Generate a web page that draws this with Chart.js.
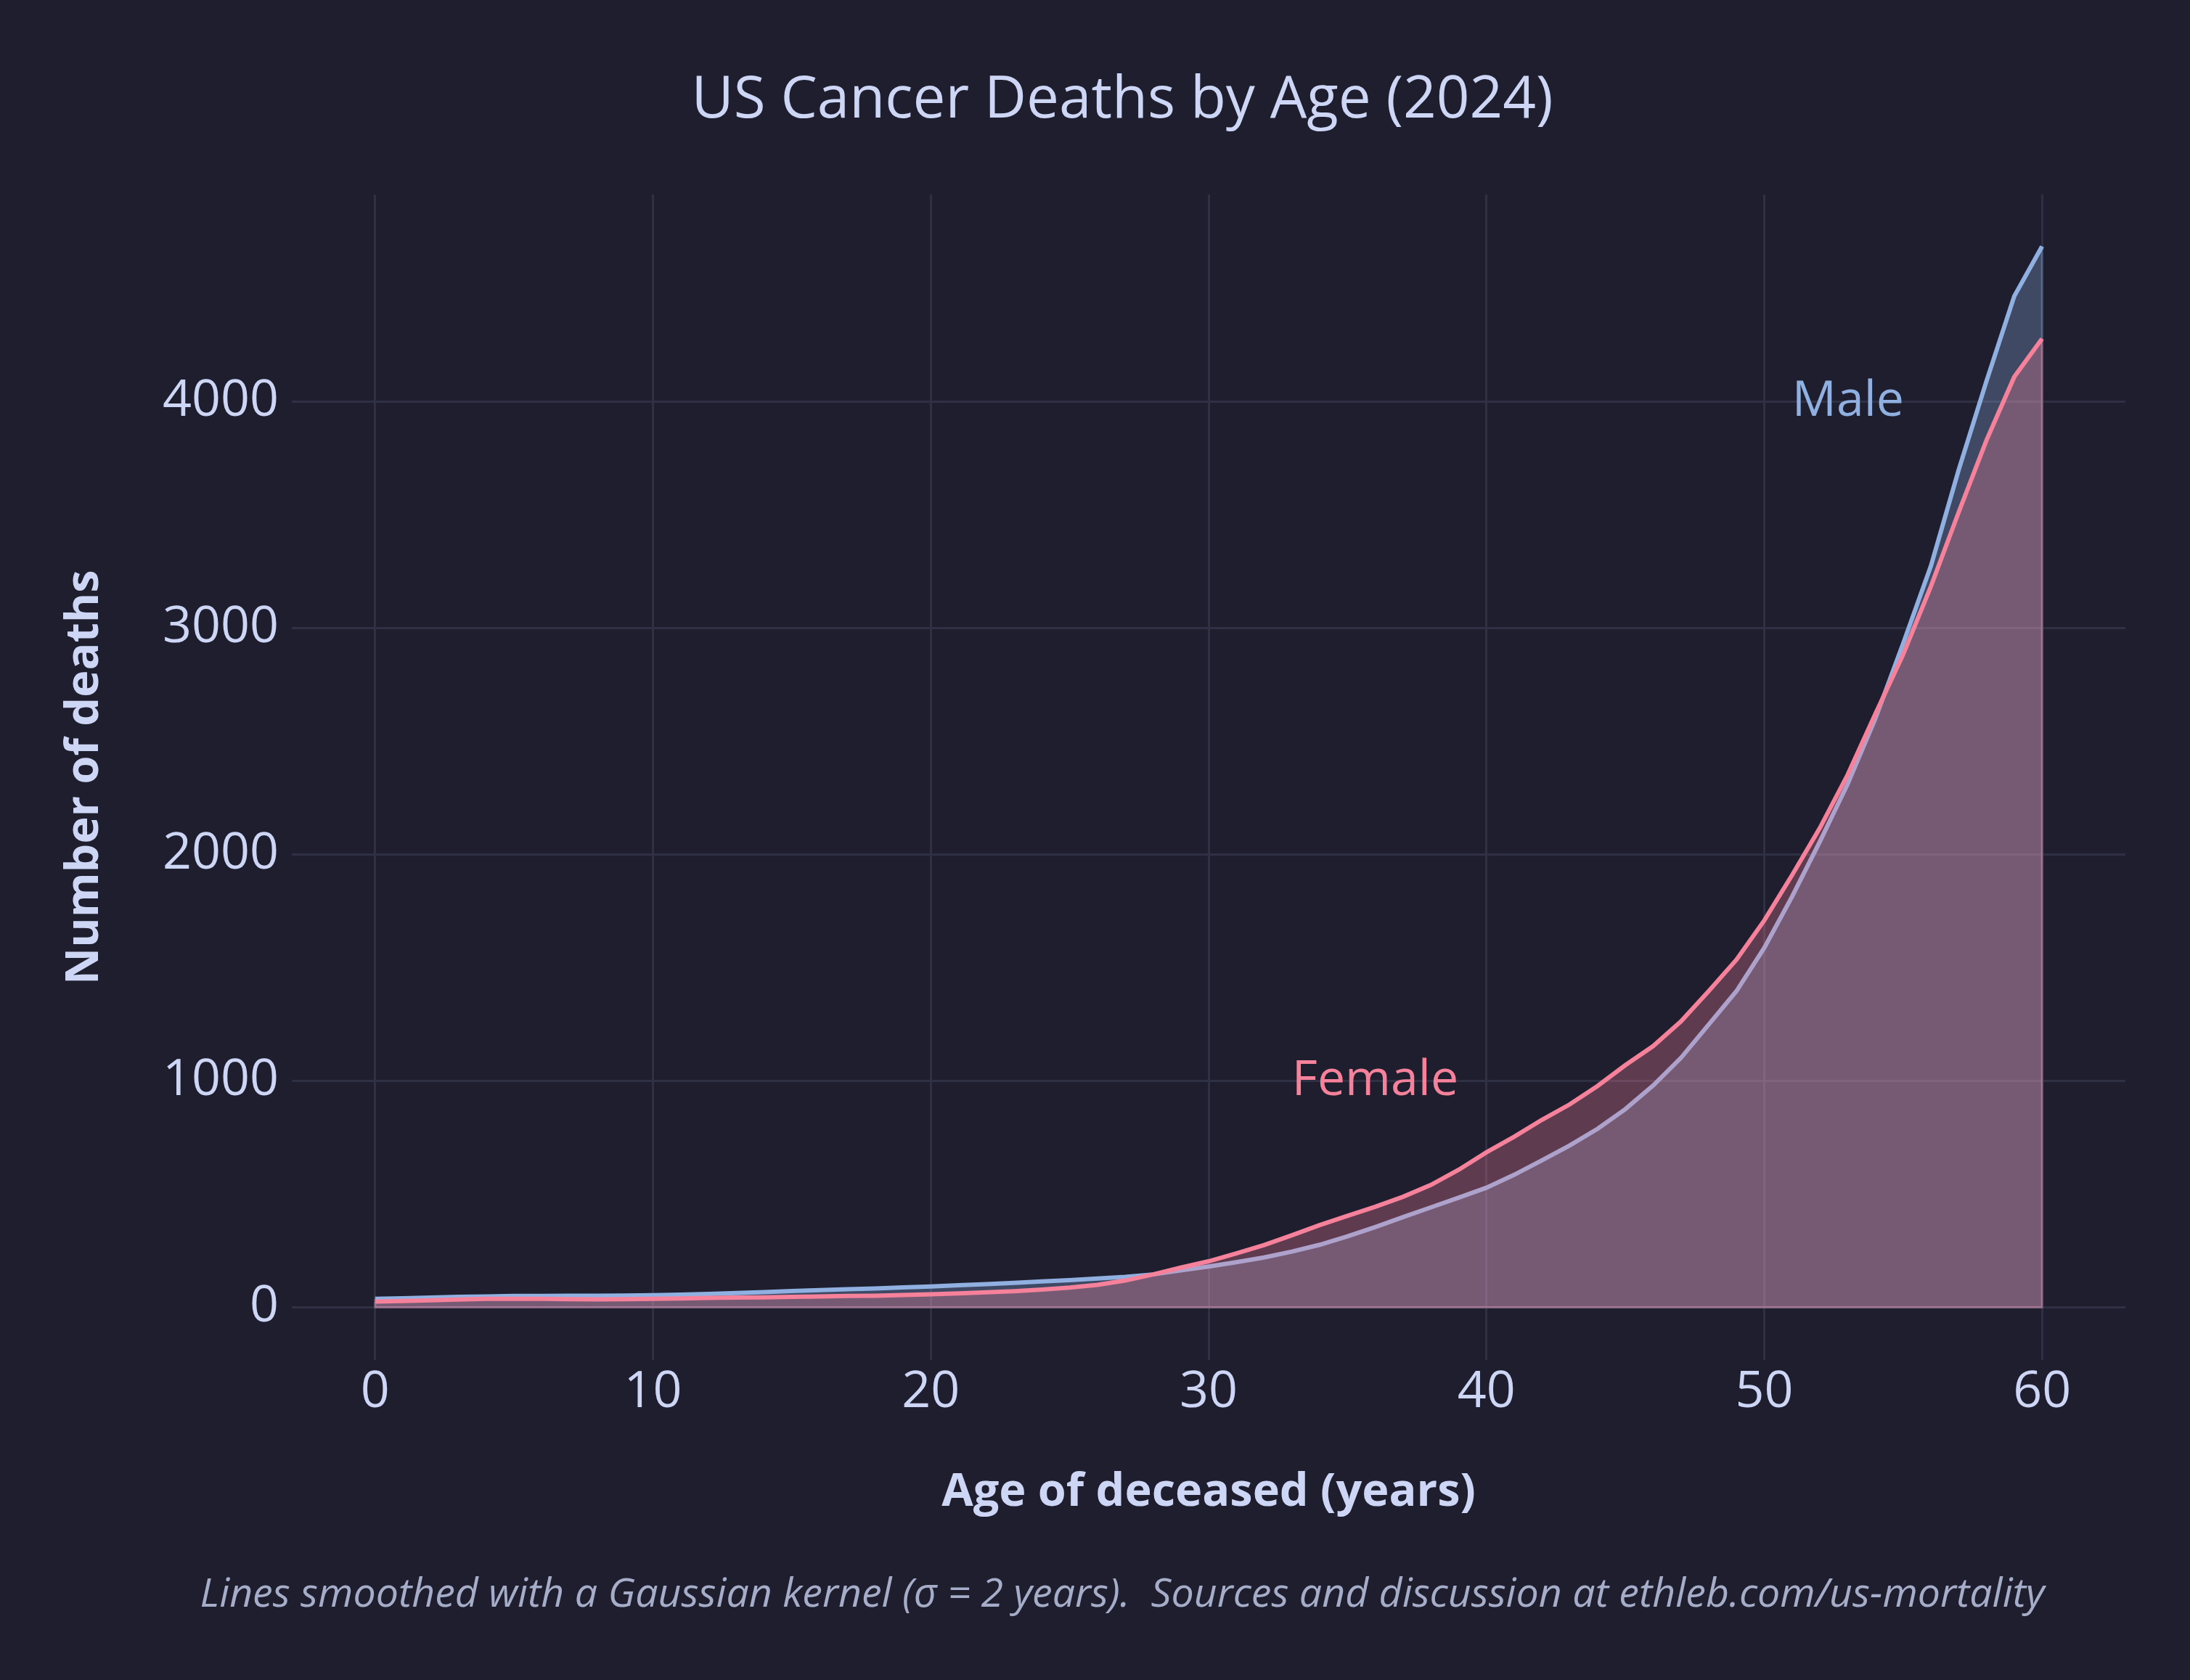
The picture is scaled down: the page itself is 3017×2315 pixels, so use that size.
<!DOCTYPE html>
<html>
<head>
<meta charset="utf-8">
<script src="https://cdn.jsdelivr.net/npm/chart.js@4.4.1/dist/chart.umd.min.js"></script>
<style>
  html, body { margin: 0; padding: 0; background: #1e1e2e; }
  #wrap { width: 3017px; height: 2315px; }
</style>
</head>
<body>
<div id="wrap"><canvas id="myChart" width="3017" height="2315"></canvas></div>
<script>
// age of deceased, years
var ages = [0, 1, 2, 3, 4, 5, 6, 7, 8, 9, 10, 11, 12, 13, 14, 15, 16, 17, 18, 19, 20,
            21, 22, 23, 24, 25, 26, 27, 28, 29, 30, 31, 32, 33, 34, 35, 36, 37, 38, 39, 40,
            41, 42, 43, 44, 45, 46, 47, 48, 49, 50, 51, 52, 53, 54, 55, 56, 57, 58, 59, 60];

// smoothed number of deaths
var male = [37, 40, 43, 46, 48, 50, 50, 51, 51, 52, 53, 56, 59, 63, 67, 72, 76, 80, 83, 88, 92,
            97, 102, 108, 114, 120, 127, 134, 145, 163, 180, 199, 220, 246, 276, 313, 354, 398, 441, 484, 528,
            585, 649, 715, 788, 875, 979, 1101, 1248, 1396, 1587, 1813, 2056, 2310, 2600, 2931, 3274, 3698, 4090, 4465, 4685];
var female = [25, 28, 31, 34, 37, 37, 37, 36, 35, 36, 37, 39, 41, 43, 44, 46, 48, 50, 51, 54, 57,
              61, 66, 71, 78, 87, 99, 118, 145, 175, 203, 238, 275, 318, 363, 404, 444, 488, 540, 607, 684,
              753, 828, 896, 977, 1069, 1153, 1262, 1396, 1535, 1708, 1908, 2116, 2351, 2620, 2883, 3184, 3511, 3829, 4109, 4277];

var xTicks = [0, 10, 20, 30, 40, 50, 60];
var yTicks = [0, 1000, 2000, 3000, 4000];

var txtColor = "#cdd6f4";
var gridColor = "#303044";
var maleColor = "#8fb0e0";
var femaleColor = "#f6819b";
var maleFill = "rgba(143, 176, 224, 0.3)";
var femaleFill = "rgba(246, 129, 155, 0.3)";

Chart.defaults.font.family = "'Open Sans', sans-serif";
Chart.defaults.color = txtColor;

function pts(vals) {
    return ages.map(function (a, i) { return {x: a, y: vals[i]}; });
}

// outline of the filled area (right side and base), plus the two series labels
var extras = {
    id: "extras",
    afterDatasetDraw: function (chart, args) {
        var ds = chart.data.datasets[args.index];
        var x = chart.scales.x, y = chart.scales.y, ctx = chart.ctx;
        var first = ds.data[0], last = ds.data[ds.data.length - 1];
        ctx.save();
        ctx.strokeStyle = ds.backgroundColor;
        ctx.lineWidth = 3;
        ctx.beginPath();
        ctx.moveTo(x.getPixelForValue(last.x), y.getPixelForValue(last.y));
        ctx.lineTo(x.getPixelForValue(last.x), y.getPixelForValue(0));
        ctx.lineTo(x.getPixelForValue(first.x), y.getPixelForValue(0));
        ctx.lineTo(x.getPixelForValue(first.x), y.getPixelForValue(first.y));
        ctx.stroke();
        ctx.restore();
    },
    afterDraw: function (chart) {
        var x = chart.scales.x, y = chart.scales.y, ctx = chart.ctx;
        ctx.save();
        ctx.font = "68px 'Open Sans', sans-serif";
        ctx.textAlign = "left";
        ctx.textBaseline = "middle";
        ctx.fillStyle = maleColor;
        ctx.fillText("Male", x.getPixelForValue(51), y.getPixelForValue(4000));
        ctx.fillStyle = femaleColor;
        ctx.fillText("Female", x.getPixelForValue(33), y.getPixelForValue(1000));
        ctx.restore();
    }
};

new Chart("myChart", {
    type: "line",
    data: {
        datasets: [{
            label: "Male",
            data: pts(male),
            borderColor: maleColor,
            backgroundColor: maleFill,
            borderWidth: 6,
            pointRadius: 0,
            tension: 0,
            fill: "origin",
            order: 2
        }, {
            label: "Female",
            data: pts(female),
            borderColor: femaleColor,
            backgroundColor: femaleFill,
            borderWidth: 6,
            pointRadius: 0,
            tension: 0,
            fill: "origin",
            order: 1
        }]
    },
    options: {
        responsive: false,
        animation: false,
        layout: {padding: {left: 75, right: 0, top: 0, bottom: 0}},
        plugins: {
            legend: {display: false},
            tooltip: {enabled: false},
            title: {
                display: true,
                text: "US Cancer Deaths by Age (2024)",
                color: txtColor,
                font: {size: 80, weight: "normal"},
                padding: {top: 91, bottom: 81}
            },
            subtitle: {
                display: true,
                position: "bottom",
                text: "Lines smoothed with a Gaussian kernel (\u03c3 = 2 years).  Sources and discussion at ethleb.com/us-mortality",
                color: "#a6adc8",
                font: {size: 55.5, style: "italic"},
                padding: {top: 0, bottom: 84}
            }
        },
        scales: {
            x: {
                type: "linear",
                min: -3,
                max: 63,
                afterBuildTicks: function (s) { s.ticks = xTicks.map(function (v) { return {value: v}; }); },
                afterFit: function (s) { s.height = 290; },
                grid: {color: gridColor, lineWidth: 3, drawTicks: false},
                border: {display: false},
                ticks: {font: {size: 70}, padding: 3, color: txtColor, callback: function (v) { return String(v); }},
                title: {
                    display: true,
                    text: "Age of deceased (years)",
                    color: txtColor,
                    font: {size: 63, weight: "bold"},
                    padding: {top: 0, bottom: 70}
                }
            },
            y: {
                type: "linear",
                min: -234,
                max: 4914,
                afterBuildTicks: function (s) { s.ticks = yTicks.map(function (v) { return {value: v}; }); },
                afterFit: function (s) { s.width = 327; },
                grid: {color: gridColor, lineWidth: 3, drawTicks: false},
                border: {display: false},
                ticks: {font: {size: 70}, padding: 18, color: txtColor, callback: function (v) { return String(v); }},
                title: {
                    display: true,
                    text: "Number of deaths",
                    color: txtColor,
                    font: {size: 63, weight: "bold"},
                    padding: {top: 4, bottom: 0}
                }
            },
            // empty right-hand strip so the titles sit where the original has them
            yRight: {
                type: "linear",
                position: "right",
                afterFit: function (s) { s.width = 89; },
                grid: {display: false},
                border: {display: false},
                ticks: {display: false}
            }
        }
    },
    plugins: [extras]
});
</script>
</body>
</html>
